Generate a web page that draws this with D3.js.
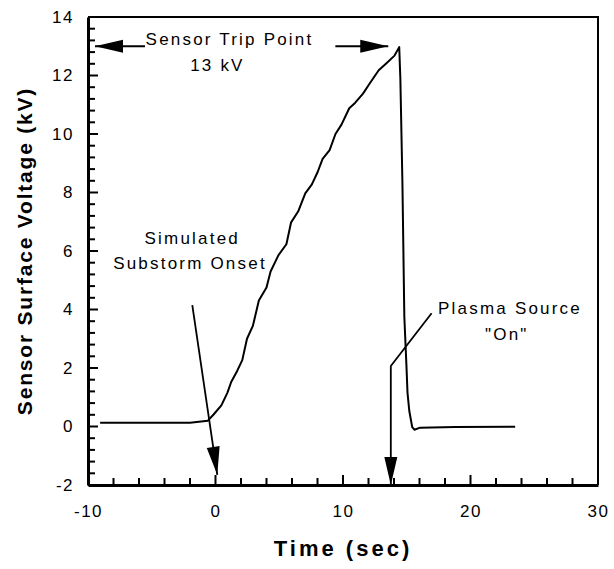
<!DOCTYPE html>
<html>
<head>
<meta charset="utf-8">
<script src="https://cdn.jsdelivr.net/npm/d3@7"></script>
<style>
    body { margin: 0; background: #fff; }
    text { font-family: "Liberation Sans", Arial, sans-serif; fill: #000; }
</style>
</head>
<body>
<div id="chart"></div>
<script>
// measured curve (time in sec, voltage in kV)
const timeVals = [-9.05, -2.0, -0.6, -0.15, 0.46, 0.93, 1.23, 1.7, 2.1, 2.47, 2.93, 3.4, 4.0, 4.32,
    4.94, 5.56, 5.93, 6.48, 7.04, 7.56, 8.02, 8.4, 8.95, 9.41, 9.88, 10.49, 10.96, 11.57, 12.04,
    12.8, 13.43, 14.04, 14.41, 14.5, 14.66, 14.81, 14.97, 15.06, 15.2, 15.43, 15.6, 16.05, 18.8, 23.5];
const voltageVals = [0.13, 0.13, 0.2, 0.41, 0.72, 1.15, 1.52, 1.9, 2.27, 3.0, 3.44, 4.31, 4.75, 5.3,
    5.86, 6.23, 6.98, 7.35, 7.97, 8.28, 8.71, 9.15, 9.45, 10.0, 10.32, 10.88, 11.07, 11.38, 11.69,
    12.18, 12.43, 12.68, 12.97, 11.87, 8.34, 3.75, 2.14, 1.15, 0.53, -0.02, -0.11, -0.04, -0.02, -0.01];

const xTicks = [-10, 0, 10, 20, 30];
const yTicks = [-2, 0, 2, 4, 6, 8, 10, 12, 14];

// annotation texts, anchored in data units
const noteLabels = ["Sensor Trip Point", "13 kV", "Simulated", "Substorm Onset", "Plasma Source", "\"On\""];
const noteX = [1.1, 0.15, -1.82, -2.0, 23.1, 22.85];
const noteY = [13.05, 12.15, 6.25, 5.38, 3.85, 2.96];

// arrows: polyline points in data units, last point is the tip
const arrowPaths = [
    [[-5.53, 13.0], [-9.45, 13.0]],
    [[9.4, 13.0], [13.55, 13.0]],
    [[-1.82, 4.15], [0.14, -1.65]],
    [[16.95, 3.87], [13.75, 2.07], [13.75, -2.0]]
];

var Chart = (() => {

    let svg = {
            width: 614,
            height: 569,
            margin: { top: 17, right: 16, bottom: 84, left: 88 }
        },
        xScale, yScale;

    function scaleData() {
        xScale = d3.scaleLinear()
            .domain([-10, 30])
            .range([svg.margin.left, svg.width - svg.margin.right]);

        yScale = d3.scaleLinear()
            .domain([-2, 14])
            .range([svg.height - svg.margin.bottom, svg.margin.top]);
    }

    function plotData() {
        const chart = d3.select("#chart")
            .append("svg")
            .attr("width", svg.width)
            .attr("height", svg.height);

        const x0 = xScale.range()[0], x1 = xScale.range()[1],
            y0 = yScale.range()[0], y1 = yScale.range()[1];

        // top + right frame
        chart.append("path")
            .attr("d", `M${x0},${y1}H${x1}V${y0}`)
            .attr("fill", "none")
            .attr("stroke", "#000")
            .attr("stroke-width", 2);

        // inside ticks: 4 minor between majors
        const xAll = d3.range(-10, 30.01, 2);
        const yAll = d3.range(0, 41).map(i => -2 + i * 0.4);

        chart.append("g")
            .selectAll("line")
            .data(xAll)
            .join("line")
            .attr("x1", d => xScale(d))
            .attr("x2", d => xScale(d))
            .attr("y1", y0)
            .attr("y2", d => y0 - (Math.round(d) % 10 === 0 ? 10 : 7))
            .attr("stroke", "#000")
            .attr("stroke-width", 2);

        chart.append("g")
            .selectAll("line")
            .data(yAll)
            .join("line")
            .attr("x1", x0)
            .attr("x2", (d, i) => x0 + (i % 5 === 0 ? 10 : 7))
            .attr("y1", d => yScale(d))
            .attr("y2", d => yScale(d))
            .attr("stroke", "#000")
            .attr("stroke-width", 2);

        // axes: labels + heavy domain line
        const gx = chart.append("g")
            .attr("transform", `translate(0,${y0})`)
            .call(d3.axisBottom(xScale).tickValues(xTicks).tickFormat(d => String(d)).tickSize(0).tickPadding(20));
        gx.select(".domain").attr("stroke-width", 3);
        gx.selectAll("text")
            .attr("font-size", 17)
            .attr("letter-spacing", 1.5)
            .attr("font-family", "Liberation Sans, Arial, sans-serif");

        const gy = chart.append("g")
            .attr("transform", `translate(${x0},0)`)
            .call(d3.axisLeft(yScale).tickValues(yTicks).tickFormat(d => String(d)).tickSize(0).tickPadding(14));
        gy.select(".domain").attr("stroke-width", 3);
        gy.selectAll("text")
            .attr("font-size", 17)
            .attr("letter-spacing", 1.5)
            .attr("font-family", "Liberation Sans, Arial, sans-serif");

        // data curve
        const line = d3.line()
            .x(d => xScale(d[0]))
            .y(d => yScale(d[1]));

        chart.append("path")
            .datum(timeVals.map((t, i) => [t, voltageVals[i]]))
            .attr("d", line)
            .attr("fill", "none")
            .attr("stroke", "#000")
            .attr("stroke-width", 2)
            .attr("stroke-linejoin", "round");

        // arrows
        arrowPaths.forEach(pts => {
            chart.append("path")
                .attr("d", line(pts))
                .attr("fill", "none")
                .attr("stroke", "#000")
                .attr("stroke-width", 1.8);

            const tip = pts[pts.length - 1], prev = pts[pts.length - 2];
            const tx = xScale(tip[0]), ty = yScale(tip[1]);
            const ang = Math.atan2(ty - yScale(prev[1]), tx - xScale(prev[0]));
            const len = 28, half = 6.5;
            const bx = tx - len * Math.cos(ang), by = ty - len * Math.sin(ang);
            const nx = -Math.sin(ang) * half, ny = Math.cos(ang) * half;
            chart.append("path")
                .attr("d", `M${tx},${ty}L${bx + nx},${by + ny}L${bx - nx},${by - ny}Z`)
                .attr("fill", "#000");
        });

        // annotation text
        chart.append("g")
            .selectAll("text")
            .data(noteLabels)
            .join("text")
            .attr("x", (d, i) => xScale(noteX[i]))
            .attr("y", (d, i) => yScale(noteY[i]))
            .attr("text-anchor", "middle")
            .attr("font-size", 17)
            .attr("letter-spacing", 2.2)
            .text(d => d);

        // axis titles
        chart.append("text")
            .attr("x", (x0 + x1) / 2)
            .attr("y", 556)
            .attr("text-anchor", "middle")
            .attr("font-size", 22)
            .attr("font-weight", "bold")
            .attr("letter-spacing", 3)
            .text("Time (sec)");

        chart.append("text")
            .attr("transform", `translate(32,${(y0 + y1) / 2}) rotate(-90)`)
            .attr("text-anchor", "middle")
            .attr("font-size", 21)
            .attr("font-weight", "bold")
            .attr("letter-spacing", 1.8)
            .text("Sensor Surface Voltage (kV)");
    }

    return { svg, scaleData, plotData };

})();

Chart.scaleData(); // domain and range
Chart.plotData(); // draw everything
</script>
</body>
</html>
